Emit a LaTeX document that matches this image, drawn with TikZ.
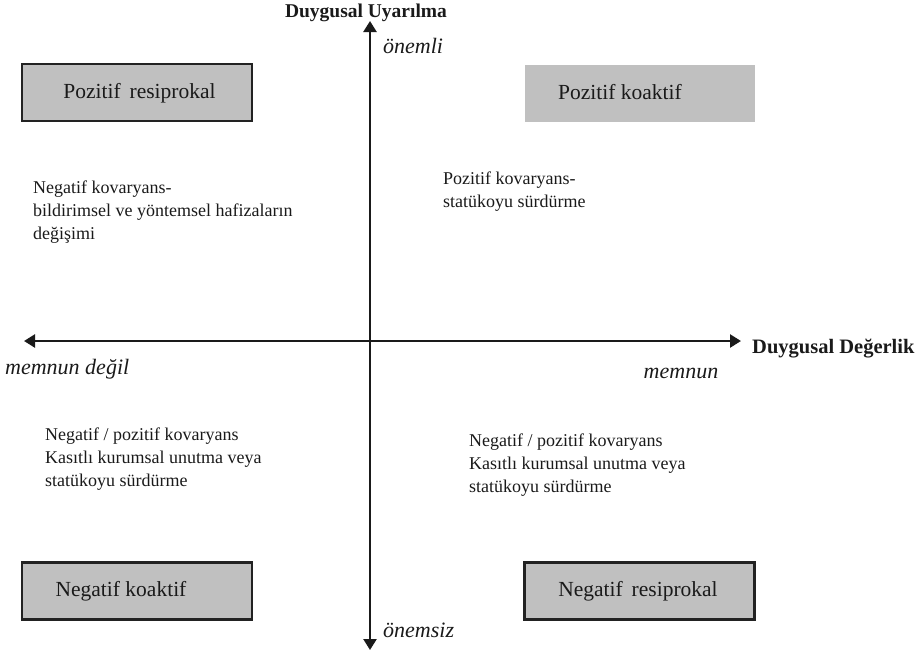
\documentclass[tikz,border=0pt]{standalone}
\usepackage{fontspec}
\setmainfont{Liberation Serif}
\usetikzlibrary{arrows.meta}
\definecolor{boxgray}{HTML}{C0C0C0}
\definecolor{boxline}{HTML}{222222}
\definecolor{ink}{HTML}{1A1A1A}
\tikzset{
  axis/.style={line width=2.4pt, ink, -{Triangle[length=11pt,width=13pt]}},
  quad/.style={fill=boxgray, minimum width=230pt, minimum height=57pt, inner sep=0pt},
  framed/.style={quad, draw=boxline, line width=2.4pt},
  boxtext/.style={inner sep=0pt, text=ink, font=\fontsize{21.5}{25}\selectfont},
  body/.style={inner sep=0pt, anchor=base west, align=left, text=ink,
               font=\fontsize{18}{23}\selectfont},
  axistitle/.style={inner sep=0pt, text=ink, font=\fontsize{19.5}{23}\selectfont\bfseries},
  pole/.style={inner sep=0pt, text=ink, font=\fontsize{22}{26}\selectfont\itshape}
}
\begin{document}
\begin{tikzpicture}[x=1pt,y=-1pt]
\useasboundingbox (0,0) rectangle (921,654);

% axes
\coordinate (origin) at (370,341);
\coordinate (top) at (370,21);
\coordinate (bottom) at (370,650);
\coordinate (left) at (24,341);
\coordinate (right) at (741,341);
\draw[axis] (origin) -- (top);
\draw[axis] (origin) -- (bottom);
\draw[axis] (origin) -- (left);
\draw[axis] (origin) -- (right);

% axis titles and poles
\node[axistitle] (vtitle) at (366,13) {Duygusal Uyarılma};
\node[axistitle, anchor=west, font=\fontsize{20.5}{24}\selectfont\bfseries] (htitle) at (752,349) {Duygusal Değerlik};
\node[pole, anchor=west] (high) at (383,46) {önemli};
\node[pole, anchor=west] (low) at (383,630) {önemsiz};
\node[pole, anchor=west] (neg) at (5,369) {memnun değil};
\node[pole] (pos) at (681,373) {memnun};

% quadrant boxes
\node[framed] (pr) at (137,92.5) {};
\node[quad] (pk) at (639.5,93) {};
\node[framed] (nk) at (137,591) {};
\node[framed] (nr) at (639.5,591) {};
\node[boxtext] (prt) at (139.5,93) {Pozitif\, resiprokal};
\node[boxtext] (pkt) at (620,92) {Pozitif koaktif};
\node[boxtext] (nkt) at (121,591) {Negatif koaktif};
\node[boxtext] (nrt) at (638,591) {Negatif\, resiprokal};

% quadrant descriptions (anchored at the baseline of the last line)
\node[body] (d1) at (33,239) {Negatif kovaryans-\\bildirimsel ve yöntemsel hafizaların\\değişimi};
\node[body] (d2) at (443,207) {Pozitif kovaryans-\\statükoyu sürdürme};
\node[body] (d3) at (45,486) {Negatif / pozitif kovaryans\\Kasıtlı kurumsal unutma veya\\statükoyu sürdürme};
\node[body] (d4) at (469,492) {Negatif / pozitif kovaryans\\Kasıtlı kurumsal unutma veya\\statükoyu sürdürme};
\end{tikzpicture}
\end{document}
